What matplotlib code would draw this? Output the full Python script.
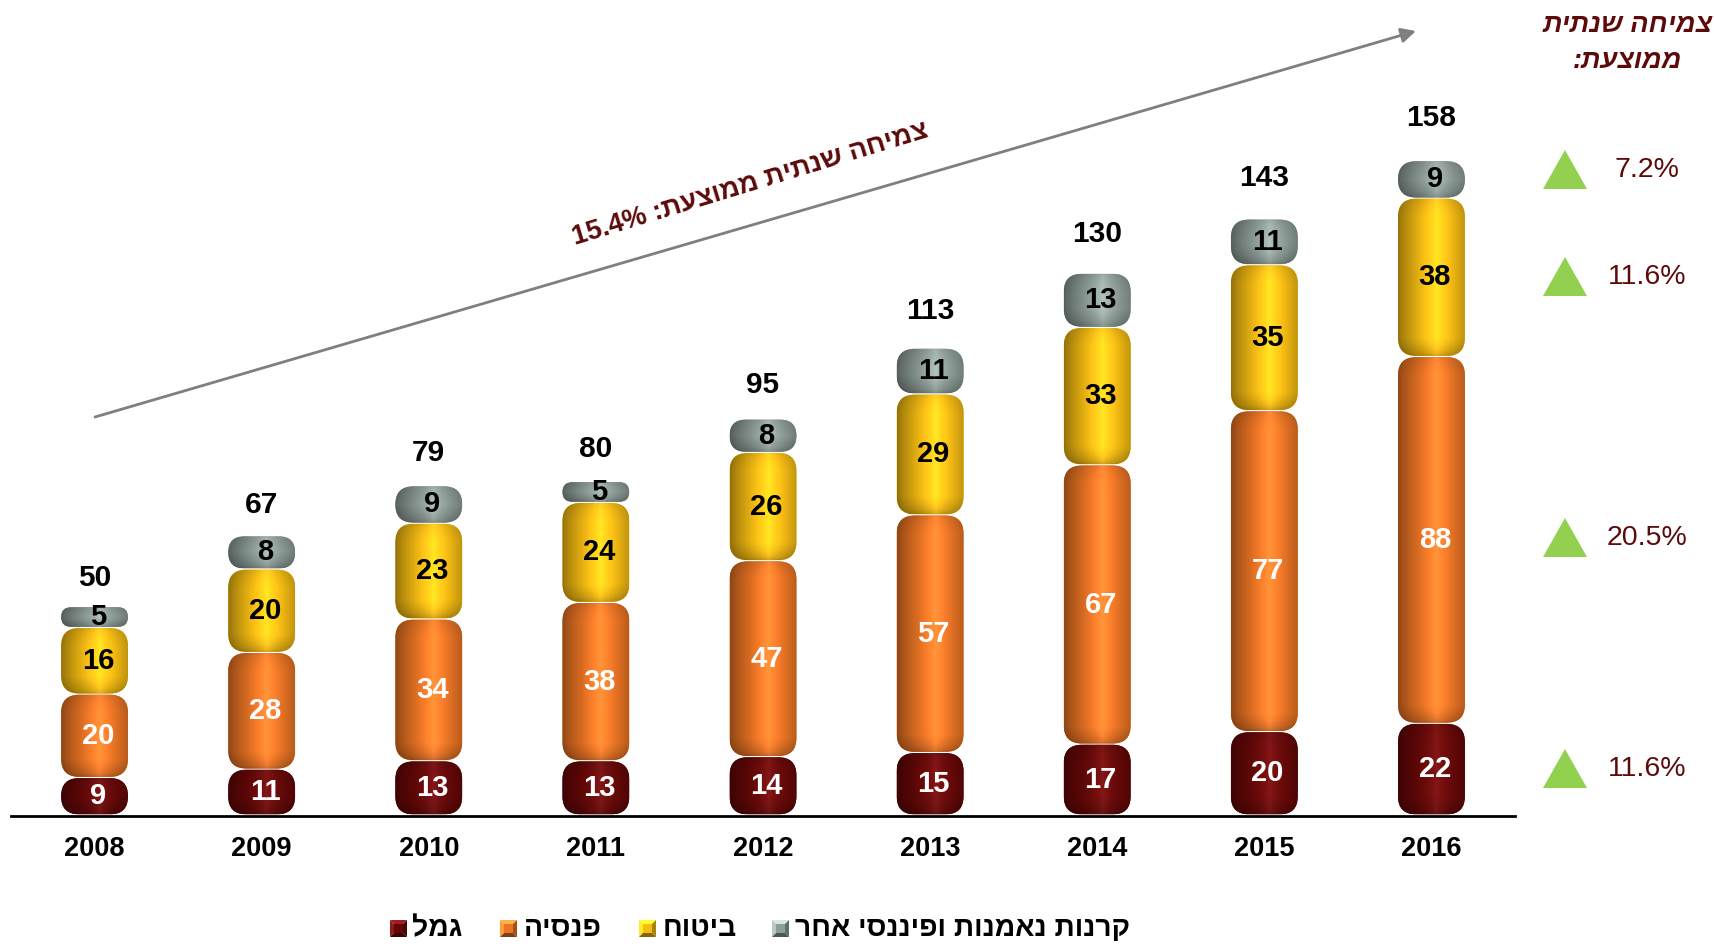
import numpy as np
import matplotlib
matplotlib.use("Agg")
import matplotlib.pyplot as plt
from matplotlib.patches import FancyBboxPatch, Polygon

plt.rcParams['font.family'] = ['Liberation Sans', 'DejaVu Sans']

# data
years = ["2008", "2009", "2010", "2011", "2012", "2013", "2014", "2015", "2016"]
gamal = [9, 11, 13, 13, 14, 15, 17, 20, 22]
pensia = [20, 28, 34, 38, 47, 57, 67, 77, 88]
bituach = [16, 20, 23, 24, 26, 29, 33, 35, 38]
other = [5, 8, 9, 5, 8, 11, 13, 11, 9]
totals = [50, 67, 79, 80, 95, 113, 130, 143, 158]
growth = ["11.6%", "20.5%", "11.6%", "7.2%"]  # gamal, pensia, bituach, other
cagr_total = "15.4%"

series_names = ["גמל", "פנסיה", "ביטוח", "קרנות נאמנות ופיננסי אחר"]
base_colors = ["#660707", "#ea7424", "#f5bc12", "#8e9d97"]
label_colors = ["white", "white", "black", "black"]

W, H = 1715, 944
DARK = "#5c0a0a"


def heb(s):  # matplotlib has no bidi, flip hebrew by hand
    return s[::-1]


def fx(x):
    return x / W


def fy(y):
    return 1 - y / H


fig = plt.figure(figsize=(W / 100, H / 100), dpi=100)
ax_left, ax_right = 11, 1515
base_px = 815
ax = fig.add_axes([fx(ax_left), fy(base_px), (ax_right - ax_left) / W, 190 * 4.168 / H])
ax.set_xlim(-0.5, 8.5)
ax.set_ylim(0, 190)
ax.axis("off")

px_x = (ax_right - ax_left) / 9.0   # pixels per x unit
px_y = 4.168                        # pixels per y unit
bw = 0.4
rad_px = 18


def shade_img(color, wpx, hpx, r):
    c = np.array(matplotlib.colors.to_rgb(color))
    nx, ny = 80, max(int(hpx), 4)
    u = np.linspace(0, 1, nx)
    # cylinder like shading, light a bit right of centre
    cu = np.clip(1 - np.abs(u - 0.58) / 0.58, 0, 1)
    prof = 0.6 + 0.55 * cu ** 0.8
    yy = np.arange(ny) + 0.5
    t_bot = np.clip(yy / r, 0, 1)
    t_top = np.clip((ny - yy) / r, 0, 1)
    vprof = (0.65 + 0.35 * np.sqrt(t_bot)) * (0.85 + 0.15 * np.sqrt(t_top))
    img = c[None, None, :] * prof[None, :, None] * vprof[:, None, None]
    img = img + 0.06 * (cu ** 4)[None, :, None]
    return np.clip(img, 0, 1)


stack = [gamal, pensia, bituach, other]
for i in range(len(years)):
    bottom = 0
    for k, vals in enumerate(stack):
        v = vals[i]
        x0 = i - bw / 2
        y0 = bottom + 0.15
        h = v - 0.3
        r_px = min(rad_px, h * px_y / 2)
        patch = FancyBboxPatch((x0, y0), bw, h,
                               boxstyle="round,pad=0,rounding_size=%f" % (r_px / px_x),
                               mutation_aspect=px_x / px_y,
                               facecolor=base_colors[k], edgecolor="none", zorder=2)
        ax.add_patch(patch)
        im = ax.imshow(shade_img(base_colors[k], bw * px_x, h * px_y, r_px),
                       extent=(x0, x0 + bw, y0, y0 + h), origin="lower",
                       aspect="auto", interpolation="bilinear", zorder=3)
        im.set_clip_path(patch)
        ax.text(i + 0.02, bottom + v / 2, str(v), ha="center", va="center",
                fontsize=21, fontweight="bold", color=label_colors[k], zorder=5)
        bottom += v
    off = (22 + 0.13 * totals[i]) / px_y
    ax.text(i, bottom + off, str(totals[i]), ha="center", va="center",
            fontsize=21.5, fontweight="bold", color="black", zorder=5)
    ax.text(i, -34 / px_y, years[i], ha="center", va="center",
            fontsize=19.5, fontweight="bold", color="black")

ax.set_xlim(-0.5, 8.5)
ax.set_ylim(0, 190)

# baseline
fig.add_artist(plt.Line2D([fx(ax_left), fx(ax_right)], [fy(base_px + 1), fy(base_px + 1)],
                          color="black", lw=2))

# growth arrow
ax.annotate("", xy=(1416, H - 31), xytext=(95, H - 417),
            xycoords="figure pixels", textcoords="figure pixels",
            arrowprops=dict(arrowstyle="-|>", color="#7f7f7f", lw=2, mutation_scale=22,
                            shrinkA=0, shrinkB=0))
fig.text(fx(750), fy(184), cagr_total + " :" + heb("צמיחה שנתית ממוצעת"),
         rotation=17, rotation_mode="anchor", ha="center", va="center",
         fontsize=19.5, fontweight="bold", color=DARK)

# right side: average growth per series
fig.text(fx(1628), fy(25), heb("צמיחה שנתית"), ha="center", va="center",
         fontsize=19.5, fontweight="bold", style="italic", color=DARK)
fig.text(fx(1628), fy(61), ":" + heb("ממוצעת"), ha="center", va="center",
         fontsize=19.5, fontweight="bold", style="italic", color=DARK)

tri_y = [769, 538, 277, 170]
for k in range(4):
    cy = tri_y[k]
    cx = 1565
    tri = Polygon([(fx(cx - 22), fy(cy + 19)), (fx(cx + 22), fy(cy + 19)), (fx(cx), fy(cy - 20))],
                  closed=True, transform=fig.transFigure, facecolor="#92d050", edgecolor="none")
    fig.add_artist(tri)
    fig.text(fx(1647), fy(cy), growth[k], ha="center", va="center",
             fontsize=20.5, color=DARK)


def bevel_square(x0, y0, s, color):
    # little pyramid marker like the original legend
    c = np.array(matplotlib.colors.to_rgb(color))
    b = 4
    pts = {"tl": (x0, y0), "tr": (x0 + s, y0), "br": (x0 + s, y0 + s), "bl": (x0, y0 + s),
           "itl": (x0 + b, y0 + b), "itr": (x0 + s - b, y0 + b),
           "ibr": (x0 + s - b, y0 + s - b), "ibl": (x0 + b, y0 + s - b)}
    faces = [(["tl", "tr", "itr", "itl"], 1.35), (["tl", "itl", "ibl", "bl"], 1.15),
             (["tr", "br", "ibr", "itr"], 0.7), (["bl", "ibl", "ibr", "br"], 0.55),
             (["itl", "itr", "ibr", "ibl"], 1.0)]
    for names, f in faces:
        poly = [(fx(pts[n][0]), fy(pts[n][1])) for n in names]
        fig.add_artist(Polygon(poly, closed=True, transform=fig.transFigure,
                               facecolor=np.clip(c * f + (0.08 if f > 1 else 0), 0, 1),
                               edgecolor="none"))


# legend (drawn by hand, RTL)
leg = [(390, 412), (500, 524), (639, 663), (772, 795)]
for k in range(4):
    sx, tx = leg[k]
    bevel_square(sx, 920, 17, base_colors[k])
    fig.text(fx(tx), fy(929), heb(series_names[k]), ha="left", va="center",
             fontsize=20.3, fontweight="bold", color="black")

fig.savefig("out.png", dpi=100)
